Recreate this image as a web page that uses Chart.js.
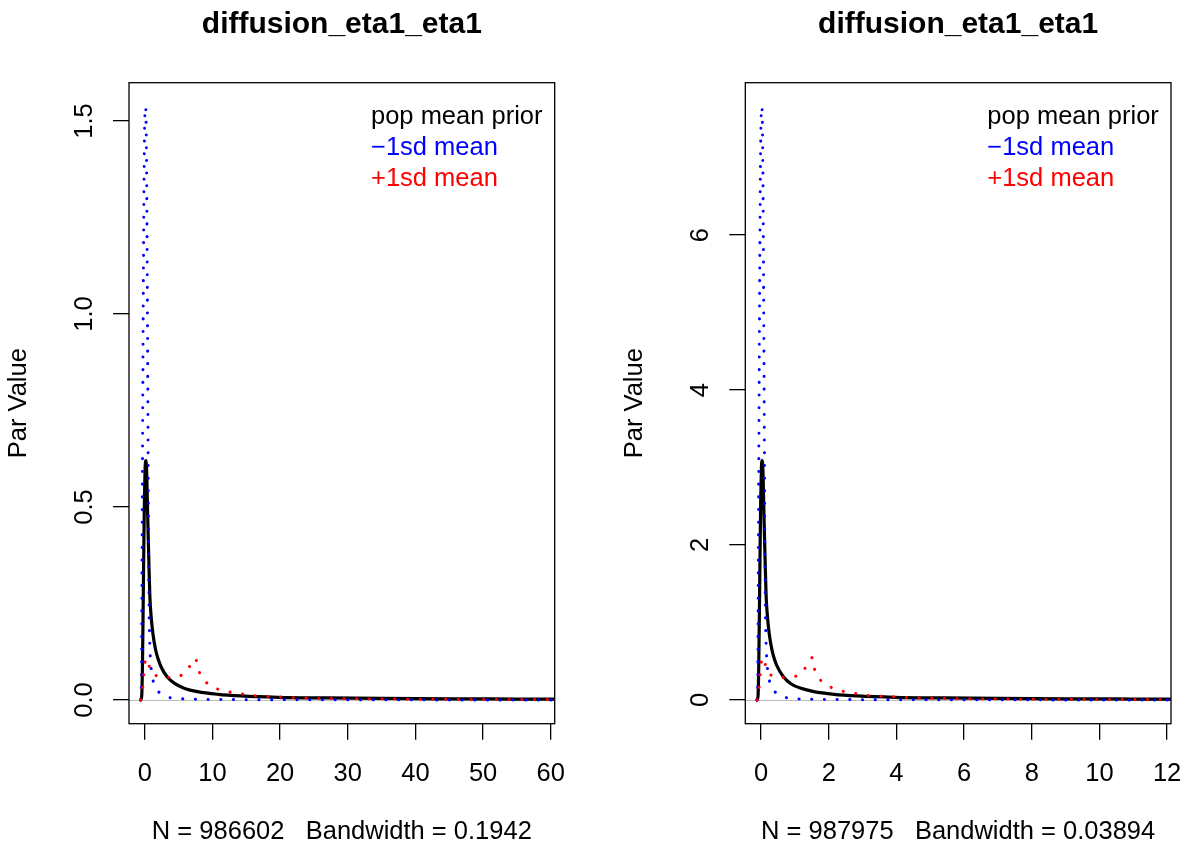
<!DOCTYPE html>
<html><head><meta charset="utf-8">
<script src="https://cdn.jsdelivr.net/npm/chart.js@4.4.1/dist/chart.umd.min.js"></script>
<style>
html,body{margin:0;padding:0;background:#fff;}
#wrap{position:relative;width:1189px;height:846px;background:#fff;}
canvas{position:absolute;left:0;top:0;}
</style></head><body>
<div id="wrap"><canvas id="c1" width="1189" height="846"></canvas><canvas id="c2" width="1189" height="846"></canvas></div>
<script>
// ---------- text ----------
const panelTitles = ['diffusion_eta1_eta1', 'diffusion_eta1_eta1'];
const panelSubtitles = ['N = 986602   Bandwidth = 0.1942', 'N = 987975   Bandwidth = 0.03894'];
const legendLabels = ['pop mean prior', '\u22121sd mean', '+1sd mean'];
const legendColors = ['#000000', '#0000ff', '#ff0000'];
const yAxisLabel = 'Par Value';

// ---------- panel 1 ----------
const xTicks1 = [0, 10, 20, 30, 40, 50, 60];
const xTickLabels1 = ['0', '10', '20', '30', '40', '50', '60'];
const yTicks1 = [0, 0.5, 1.0, 1.5];
const yTickLabels1 = ['0.0', '0.5', '1.0', '1.5'];
const xData1 = [0, 58.25];
const yData1 = [0, 1.5376];

const priorX1 = [-0.6, -0.45, -0.35, -0.25, -0.15, -0.05, 0.05, 0.18, 0.3, 0.4, 0.5, 0.6, 0.75, 0.9, 1.2, 1.6, 2.0, 2.4, 3.3, 4.4, 5.9, 7.8, 10.8, 14.2, 19.7, 27, 35, 45, 55, 62.5];
const priorY1 = [0, 0.01, 0.08, 0.22, 0.38, 0.52, 0.6, 0.62, 0.58, 0.5, 0.43, 0.36, 0.27, 0.225, 0.172, 0.13, 0.105, 0.086, 0.06, 0.043, 0.03, 0.0216, 0.0147, 0.0104, 0.0069, 0.0052, 0.004, 0.003, 0.0024, 0.002];

const minusX1 = [-0.6, -0.52, -0.47, -0.43, -0.35, -0.2, -0.05, 0.12, 0.3, 0.42, 0.52, 0.6, 0.68, 0.84, 1.04, 1.43, 2.0, 2.66, 3.5, 4.5, 6.4, 9, 14, 20, 30, 45, 62.5];
const minusY1 = [0, 0.02, 0.1, 0.26, 0.55, 1.1, 1.45, 1.5376, 1.3, 0.9, 0.55, 0.3, 0.19, 0.104, 0.07, 0.037, 0.022, 0.013, 0.007, 0.004, 0.0025, 0.0015, 0.0008, 0.0005, 0.0003, 0.0002, 0.0001];

const plusX1 = [-0.6, -0.3, -0.15, 0.05, 0.35, 0.6, 0.79, 1.2, 2.4, 4.3, 5.3, 6.1, 7.0, 7.55, 7.95, 8.9, 10.6, 12.4, 14.3, 16.1, 18.1, 20, 21.8, 23.8, 25.6, 30, 35, 40, 45, 50, 62.5];
const plusY1 = [0, 0.03, 0.065, 0.1, 0.108, 0.095, 0.076, 0.066, 0.059, 0.059, 0.063, 0.071, 0.098, 0.108, 0.075, 0.047, 0.029, 0.021, 0.016, 0.011, 0.009, 0.008, 0.006, 0.005, 0.004, 0.003, 0.0025, 0.002, 0.0017, 0.0014, 0.001];

// ---------- panel 2 ----------
const xTicks2 = [0, 2, 4, 6, 8, 10, 12];
const xTickLabels2 = ['0', '2', '4', '6', '8', '10', '12'];
const yTicks2 = [0, 2, 4, 6];
const yTickLabels2 = ['0', '2', '4', '6'];
const xData2 = [0, 11.65];
const yData2 = [0, 7.661];

const priorX2 = [-0.12, -0.09, -0.07, -0.05, -0.03, -0.01, 0.01, 0.036, 0.06, 0.08, 0.1, 0.12, 0.15, 0.18, 0.24, 0.32, 0.4, 0.48, 0.66, 0.88, 1.18, 1.56, 2.16, 2.84, 3.94, 5.4, 7, 9, 11, 12.5];
const priorY2 = [0, 0.05, 0.4, 1.1, 1.89, 2.59, 2.99, 3.09, 2.89, 2.49, 2.14, 1.79, 1.34, 1.12, 0.86, 0.65, 0.52, 0.43, 0.3, 0.21, 0.15, 0.108, 0.073, 0.052, 0.034, 0.026, 0.02, 0.015, 0.012, 0.01];

const minusX2 = [-0.12, -0.104, -0.094, -0.086, -0.07, -0.04, -0.01, 0.024, 0.06, 0.084, 0.104, 0.12, 0.136, 0.168, 0.208, 0.286, 0.4, 0.532, 0.7, 0.9, 1.28, 1.8, 2.8, 4, 6, 9, 12.5];
const minusY2 = [0, 0.1, 0.5, 1.29, 2.74, 5.48, 7.22, 7.661, 6.47, 4.48, 2.74, 1.49, 0.95, 0.52, 0.35, 0.184, 0.11, 0.065, 0.035, 0.02, 0.012, 0.0075, 0.004, 0.0025, 0.0015, 0.001, 0.0005];

const plusX2 = [-0.12, -0.06, -0.03, 0.01, 0.07, 0.12, 0.16, 0.24, 0.48, 0.86, 1.06, 1.22, 1.4, 1.51, 1.59, 1.78, 2.12, 2.48, 2.86, 3.22, 3.62, 4, 4.36, 4.76, 5.12, 6, 7, 8, 9, 10, 12.5];
const plusY2 = [0, 0.15, 0.32, 0.5, 0.55, 0.47, 0.38, 0.33, 0.29, 0.29, 0.31, 0.35, 0.49, 0.55, 0.38, 0.24, 0.15, 0.105, 0.08, 0.055, 0.045, 0.04, 0.03, 0.025, 0.02, 0.015, 0.012, 0.01, 0.0085, 0.007, 0.005];

// ---------- layout ----------
const W = 1189, H = 846;
const FONT = '"Liberation Sans", Arial, Helvetica, sans-serif';
const BASE = 25.5;
const boxes = [
  {left: 129, right: 554.7, top: 82.7, bottom: 723.7},
  {left: 745.3, right: 1171, top: 82.7, bottom: 723.7}
];

function pts(xs, ys) { return xs.map((x, i) => ({x: x, y: ys[i]})); }
function padRange(r) { const w = r[1] - r[0]; return [r[0] - 0.04 * w, r[1] + 0.04 * w]; }

const rPlugin = {
  id: 'rstyle',
  beforeDatasetsDraw(chart, args, o) {
    const ctx = chart.ctx, a = chart.chartArea, ys = chart.scales.y;
    ctx.save();
    ctx.strokeStyle = '#bebebe';
    ctx.lineWidth = 1;
    const y0 = Math.round(ys.getPixelForValue(0)) + 0.5;
    ctx.beginPath(); ctx.moveTo(a.left, y0); ctx.lineTo(a.right, y0); ctx.stroke();
    ctx.restore();
  },
  afterDraw(chart, args, o) {
    const ctx = chart.ctx, a = chart.chartArea;
    const xs = chart.scales.x, ys = chart.scales.y;
    ctx.save();
    // box
    ctx.strokeStyle = '#000'; ctx.lineWidth = 1.3;
    ctx.strokeRect(a.left, a.top, a.right - a.left, a.bottom - a.top);
    const cx = (a.left + a.right) / 2;
    ctx.fillStyle = '#000';
    // title
    ctx.font = 'bold 30px ' + FONT;
    ctx.textAlign = 'center'; ctx.textBaseline = 'alphabetic';
    ctx.fillText(o.title, cx, 33);
    // x tick labels
    ctx.font = BASE + 'px ' + FONT;
    ctx.textBaseline = 'middle';
    o.xTicks.forEach((v, i) => ctx.fillText(o.xLabels[i], xs.getPixelForValue(v), 774));
    // subtitle
    ctx.fillText(o.sub, cx, 832);
    // y tick labels (rotated, R las=0)
    o.yTicks.forEach((v, i) => {
      ctx.save();
      ctx.translate(a.left - 44.5, ys.getPixelForValue(v));
      ctx.rotate(-Math.PI / 2);
      ctx.fillText(o.yLabels[i], 0, 0);
      ctx.restore();
    });
    // y axis title
    ctx.save();
    ctx.translate(a.left - 110, (a.top + a.bottom) / 2);
    ctx.rotate(-Math.PI / 2);
    ctx.fillText(yAxisLabel, 0, 0);
    ctx.restore();
    // legend (text only, R bty="n")
    ctx.textAlign = 'left';
    const lx = a.right - 183.7;
    const lys = [117.3, 148.3, 179.3];
    legendLabels.forEach((t, i) => {
      ctx.fillStyle = legendColors[i];
      ctx.fillText(t, lx, lys[i]);
    });
    ctx.restore();
  }
};

function makeChart(id, k, cfg) {
  const box = boxes[k];
  const xr = padRange(cfg.xData), yr = padRange(cfg.yData);
  const dotted = {borderWidth: 3, borderDash: [0.1, 12.6], borderCapStyle: 'round', pointRadius: 0, tension: 0, fill: false};
  return new Chart(document.getElementById(id), {
    type: 'line',
    data: {
      datasets: [
        Object.assign({label: legendLabels[2], data: pts(cfg.plusX, cfg.plusY), borderColor: '#ff0000'}, dotted),
        Object.assign({label: legendLabels[1], data: pts(cfg.minusX, cfg.minusY), borderColor: '#0000ff', cubicInterpolationMode: 'monotone'}, dotted),
        {label: legendLabels[0], data: pts(cfg.priorX, cfg.priorY), borderColor: '#000000', borderWidth: 3.2,
         pointRadius: 0, cubicInterpolationMode: 'monotone', fill: false, borderCapStyle: 'round', borderJoinStyle: 'round'}
      ]
    },
    options: {
      responsive: false, animation: false, events: [], devicePixelRatio: 1,
      layout: {padding: {left: box.left, right: W - box.right, top: box.top, bottom: H - box.bottom}},
      plugins: {
        legend: {display: false}, tooltip: {enabled: false}, title: {display: false},
        rstyle: {title: panelTitles[k], sub: panelSubtitles[k], xTicks: cfg.xTicks, xLabels: cfg.xLabels, yTicks: cfg.yTicks, yLabels: cfg.yLabels}
      },
      scales: {
        x: {
          type: 'linear', position: 'bottom', min: xr[0], max: xr[1],
          afterFit: s => { s.height = 0; },
          afterBuildTicks: s => { s.ticks = cfg.xTicks.map(v => ({value: v})); },
          ticks: {display: false},
          grid: {drawOnChartArea: false, drawTicks: true, tickLength: 16, color: '#000', lineWidth: 1.3},
          border: {display: false}
        },
        y: {
          type: 'linear', position: 'left', min: yr[0], max: yr[1],
          afterFit: s => { s.width = 0; },
          afterBuildTicks: s => { s.ticks = cfg.yTicks.map(v => ({value: v})); },
          ticks: {display: false},
          grid: {drawOnChartArea: false, drawTicks: true, tickLength: 16, color: '#000', lineWidth: 1.3},
          border: {display: false}
        }
      }
    },
    plugins: [rPlugin]
  });
}

makeChart('c1', 0, {xData: xData1, yData: yData1, xTicks: xTicks1, xLabels: xTickLabels1, yTicks: yTicks1, yLabels: yTickLabels1,
  priorX: priorX1, priorY: priorY1, minusX: minusX1, minusY: minusY1, plusX: plusX1, plusY: plusY1});
makeChart('c2', 1, {xData: xData2, yData: yData2, xTicks: xTicks2, xLabels: xTickLabels2, yTicks: yTicks2, yLabels: yTickLabels2,
  priorX: priorX2, priorY: priorY2, minusX: minusX2, minusY: minusY2, plusX: plusX2, plusY: plusY2});
</script>
</body></html>
